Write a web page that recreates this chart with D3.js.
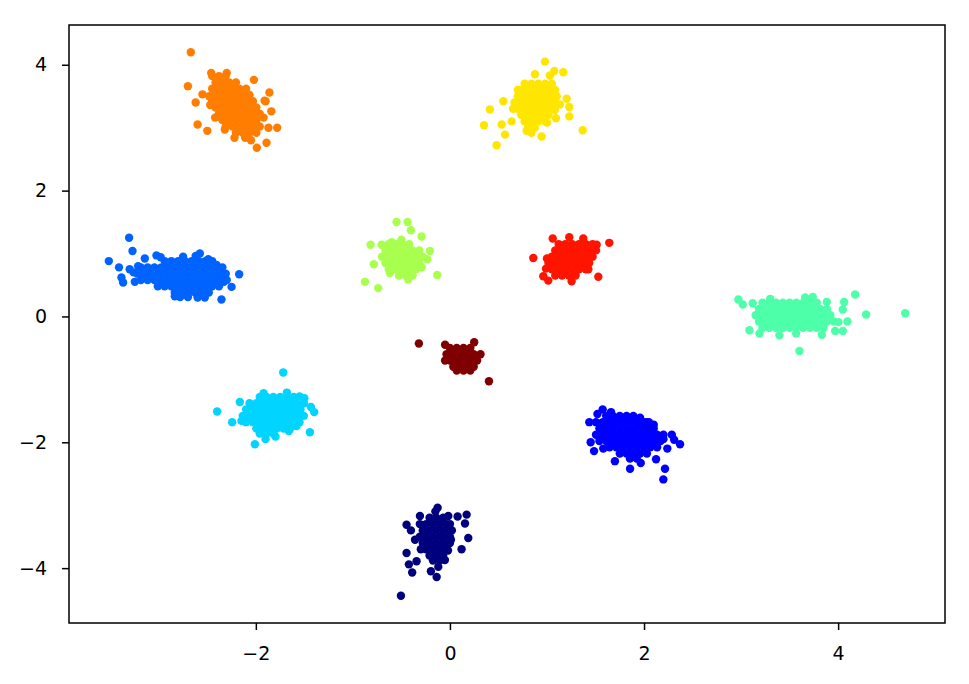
<!DOCTYPE html>
<html>
<head>
<meta charset="utf-8">
<script src="https://cdn.jsdelivr.net/npm/d3@7"></script>
<style>
  html, body { margin: 0; padding: 0; background: #ffffff; }
  svg { display: block; }
  text { font-family: "DejaVu Sans", sans-serif; }
</style>
</head>
<body>
<svg id="chart" width="969" height="684"></svg>
<script>
// ---- Data ----
const xTicks = [-2, 0, 2, 4];
const yTicks = [-4, -2, 0, 2, 4];

const clusterNavy = [
  [-0.505,-4.44],[-0.127,-3.04],[-0.017,-3.17],[0.079,-3.18],[0.172,-3.15],[0.155,-3.29],[0.189,-3.52],
  [0.12,-3.70],[-0.052,-3.87],[-0.137,-4.14],[-0.196,-4.05],[-0.389,-4.07],[-0.423,-3.94],[-0.344,-3.89],
  [-0.447,-3.76],[-0.447,-3.31],[-0.402,-3.40],[-0.309,-3.17],[-0.36,-3.55],[-0.12,-3.98],[-0.15,-3.10],
  [0.02,-3.40],[0.01,-3.55],[-0.02,-3.72],
  [-0.21,-3.20],[-0.14,-3.20],[-0.07,-3.20],
  [-0.31,-3.30],[-0.245,-3.30],[-0.175,-3.30],[-0.105,-3.30],[-0.035,-3.30],[0.00,-3.30],
  [-0.28,-3.40],[-0.21,-3.40],[-0.14,-3.40],[-0.07,-3.40],[0.00,-3.40],
  [-0.31,-3.50],[-0.245,-3.50],[-0.175,-3.50],[-0.105,-3.50],[-0.035,-3.50],[0.00,-3.50],
  [-0.28,-3.60],[-0.21,-3.60],[-0.14,-3.60],[-0.07,-3.60],[0.00,-3.60],
  [-0.30,-3.70],[-0.245,-3.70],[-0.175,-3.70],[-0.105,-3.70],[-0.035,-3.70],
  [-0.21,-3.80],[-0.14,-3.80],[-0.07,-3.80],
  [-0.175,-3.88],[-0.105,-3.88]
];

const clusterBlue = [
  [1.574,-1.48],[1.436,-1.68],[1.45,-2.00],[1.485,-2.14],[1.856,-2.42],[2.216,-2.42],[2.199,-2.59],
  [2.371,-2.03],[2.286,-1.88],[2.31,-1.96],[2.24,-2.10],[2.124,-2.27],[1.966,-2.33],[1.959,-1.61],
  [2.027,-1.68],[1.52,-1.55],[1.70,-2.30],[1.66,-1.52],[2.10,-1.72],[1.58,-2.10],[2.20,-1.95],
  [1.61,-1.58],[1.68,-1.58],[1.75,-1.58],[1.82,-1.58],[1.89,-1.58],
  [1.505,-1.68],[1.575,-1.68],[1.645,-1.68],[1.715,-1.68],[1.785,-1.68],[1.855,-1.68],[1.925,-1.68],[1.995,-1.68],[2.05,-1.68],
  [1.54,-1.78],[1.61,-1.78],[1.68,-1.78],[1.75,-1.78],[1.82,-1.78],[1.89,-1.78],[1.96,-1.78],[2.03,-1.78],[2.10,-1.78],
  [1.505,-1.88],[1.575,-1.88],[1.645,-1.88],[1.715,-1.88],[1.785,-1.88],[1.855,-1.88],[1.925,-1.88],[1.995,-1.88],[2.065,-1.88],[2.135,-1.88],[2.20,-1.88],
  [1.54,-1.98],[1.61,-1.98],[1.68,-1.98],[1.75,-1.98],[1.82,-1.98],[1.89,-1.98],[1.96,-1.98],[2.03,-1.98],[2.10,-1.98],[2.17,-1.98],
  [1.645,-2.08],[1.715,-2.08],[1.785,-2.08],[1.855,-2.08],[1.925,-2.08],[1.995,-2.08],[2.065,-2.08],[2.135,-2.08],
  [1.75,-2.18],[1.82,-2.18],[1.89,-2.18],[1.96,-2.18],[2.03,-2.18],
  [1.855,-2.26],[1.925,-2.26]
];

const clusterAzure = [
  [-3.306,1.25],[-3.271,1.04],[-3.515,0.88],[-3.41,0.78],[-3.368,0.54],[-3.385,0.62],[-3.247,0.55],
  [-2.172,0.67],[-2.354,0.27],[-2.25,0.47],[-2.577,1.00],[-2.49,0.91],[-2.405,0.82],[-3.024,0.97],
  [-3.144,0.92],[-2.835,0.32],[-2.526,0.30],[-2.354,0.68],[-3.30,0.75],[-3.213,0.80],[-2.70,0.31],
  [-2.98,0.94],[-2.62,0.96],[-2.75,0.95],[-2.78,0.31],[-2.60,0.30],[-3.26,0.70],[-2.33,0.55],
  [-2.94,0.88],[-2.87,0.88],[-2.80,0.88],[-2.73,0.88],[-2.66,0.88],[-2.59,0.88],[-2.52,0.88],[-2.45,0.88],
  [-3.185,0.78],[-3.115,0.78],[-3.045,0.78],[-2.975,0.78],[-2.905,0.78],[-2.835,0.78],[-2.765,0.78],[-2.695,0.78],[-2.625,0.78],[-2.555,0.78],[-2.485,0.78],[-2.415,0.78],[-2.345,0.78],
  [-3.22,0.68],[-3.15,0.68],[-3.08,0.68],[-3.01,0.68],[-2.94,0.68],[-2.87,0.68],[-2.80,0.68],[-2.73,0.68],[-2.66,0.68],[-2.59,0.68],[-2.52,0.68],[-2.45,0.68],[-2.38,0.68],[-2.31,0.68],
  [-3.185,0.58],[-3.115,0.58],[-3.045,0.58],[-2.975,0.58],[-2.905,0.58],[-2.835,0.58],[-2.765,0.58],[-2.695,0.58],[-2.625,0.58],[-2.555,0.58],[-2.485,0.58],[-2.415,0.58],[-2.345,0.58],[-2.30,0.58],
  [-3.01,0.48],[-2.94,0.48],[-2.87,0.48],[-2.80,0.48],[-2.73,0.48],[-2.66,0.48],[-2.59,0.48],[-2.52,0.48],[-2.45,0.48],[-2.38,0.48],
  [-2.835,0.38],[-2.765,0.38],[-2.695,0.38],[-2.625,0.38],[-2.555,0.38],[-2.485,0.38]
];

const clusterCyan = [
  [-1.718,-0.89],[-2.399,-1.51],[-2.244,-1.68],[-2.148,-1.66],[-1.443,-1.84],[-1.399,-1.52],[-1.433,-1.44],
  [-1.797,-1.91],[-2.01,-2.03],[-1.66,-1.82],[-1.58,-1.74],[-2.165,-1.36],[-1.90,-1.95],[-1.50,-1.30],
  [-1.92,-1.22],[-1.68,-1.21],[-1.55,-1.27],
  [-1.96,-1.28],[-1.89,-1.28],[-1.82,-1.28],[-1.75,-1.28],[-1.68,-1.28],[-1.61,-1.28],
  [-2.065,-1.38],[-1.995,-1.38],[-1.925,-1.38],[-1.855,-1.38],[-1.785,-1.38],[-1.715,-1.38],[-1.645,-1.38],[-1.575,-1.38],[-1.505,-1.38],
  [-2.10,-1.48],[-2.03,-1.48],[-1.96,-1.48],[-1.89,-1.48],[-1.82,-1.48],[-1.75,-1.48],[-1.68,-1.48],[-1.61,-1.48],[-1.54,-1.48],
  [-2.135,-1.58],[-2.065,-1.58],[-1.995,-1.58],[-1.925,-1.58],[-1.855,-1.58],[-1.785,-1.58],[-1.715,-1.58],[-1.645,-1.58],[-1.575,-1.58],[-1.505,-1.58],
  [-2.10,-1.68],[-2.03,-1.68],[-1.96,-1.68],[-1.89,-1.68],[-1.82,-1.68],[-1.75,-1.68],[-1.68,-1.68],[-1.61,-1.68],[-1.55,-1.68],
  [-1.995,-1.78],[-1.925,-1.78],[-1.855,-1.78],[-1.785,-1.78],[-1.715,-1.78],[-1.645,-1.78],
  [-1.96,-1.86],[-1.89,-1.86],[-1.82,-1.86]
];

const clusterAqua = [
  [2.972,0.27],[3.017,0.19],[3.12,0.21],[3.086,-0.22],[3.19,-0.27],[3.395,-0.30],[3.601,-0.55],
  [4.175,0.35],[4.289,0.03],[4.691,0.05],[4.062,0.23],[4.048,0.11],[4.096,-0.08],[4.048,-0.23],
  [3.969,-0.23],[3.832,-0.29],[3.883,0.23],[3.66,0.30],[3.739,0.31],[4.003,-0.09],[3.567,-0.27],[3.30,0.28],
  [3.22,0.22],[3.29,0.22],[3.36,0.22],[3.43,0.22],[3.50,0.22],[3.57,0.22],[3.64,0.22],[3.71,0.22],[3.78,0.22],
  [3.185,0.12],[3.255,0.12],[3.325,0.12],[3.395,0.12],[3.465,0.12],[3.535,0.12],[3.605,0.12],[3.675,0.12],[3.745,0.12],[3.815,0.12],[3.885,0.12],
  [3.15,0.02],[3.22,0.02],[3.29,0.02],[3.36,0.02],[3.43,0.02],[3.50,0.02],[3.57,0.02],[3.64,0.02],[3.71,0.02],[3.78,0.02],[3.85,0.02],[3.92,0.02],
  [3.185,-0.08],[3.255,-0.08],[3.325,-0.08],[3.395,-0.08],[3.465,-0.08],[3.535,-0.08],[3.605,-0.08],[3.675,-0.08],[3.745,-0.08],[3.815,-0.08],[3.885,-0.08],[3.955,-0.08],
  [3.22,-0.18],[3.29,-0.18],[3.36,-0.18],[3.43,-0.18],[3.50,-0.18],[3.57,-0.18],[3.64,-0.18],[3.71,-0.18],[3.78,-0.18],[3.85,-0.18]
];

const clusterLime = [
  [-0.55,1.50],[-0.436,1.50],[-0.402,1.37],[-0.292,1.27],[-0.818,1.14],[-0.704,1.14],[-0.60,1.18],
  [-0.206,1.04],[-0.234,0.91],[-0.784,0.83],[-0.131,0.66],[-0.876,0.55],[-0.739,0.45],[-0.43,0.59],[-0.619,0.69],
  [-0.29,0.78],[-0.50,1.22],
  [-0.63,1.15],[-0.56,1.15],[-0.49,1.15],[-0.42,1.15],
  [-0.665,1.05],[-0.595,1.05],[-0.525,1.05],[-0.455,1.05],[-0.385,1.05],[-0.315,1.05],
  [-0.70,0.95],[-0.63,0.95],[-0.56,0.95],[-0.49,0.95],[-0.42,0.95],[-0.35,0.95],[-0.28,0.95],
  [-0.665,0.85],[-0.595,0.85],[-0.525,0.85],[-0.455,0.85],[-0.385,0.85],[-0.315,0.85],
  [-0.63,0.75],[-0.56,0.75],[-0.49,0.75],[-0.42,0.75],[-0.35,0.75],
  [-0.525,0.65],[-0.455,0.65],[-0.385,0.65]
];

const clusterYellow = [
  [0.979,4.05],[1.168,3.88],[1.075,3.90],[1.03,3.83],[0.876,3.85],[0.412,3.29],[0.351,3.04],
  [0.481,2.72],[0.567,2.89],[0.533,3.05],[1.368,2.96],[1.203,3.46],[1.23,3.33],[1.23,3.18],
  [1.093,3.15],[0.945,2.86],[0.55,3.42],[0.636,3.10],[0.79,2.95],[1.0,3.08],[1.134,3.37],
  [0.65,3.30],[1.08,3.28],[0.70,3.60],
  [0.77,3.70],[0.84,3.70],[0.91,3.70],[0.98,3.70],[1.05,3.70],
  [0.735,3.60],[0.805,3.60],[0.875,3.60],[0.945,3.60],[1.015,3.60],[1.085,3.60],
  [0.70,3.50],[0.77,3.50],[0.84,3.50],[0.91,3.50],[0.98,3.50],[1.05,3.50],[1.10,3.50],
  [0.665,3.40],[0.735,3.40],[0.805,3.40],[0.875,3.40],[0.945,3.40],[1.015,3.40],[1.085,3.40],
  [0.70,3.30],[0.77,3.30],[0.84,3.30],[0.91,3.30],[0.98,3.30],[1.05,3.30],
  [0.735,3.20],[0.805,3.20],[0.875,3.20],[0.945,3.20],[1.015,3.20],
  [0.77,3.10],[0.84,3.10],[0.91,3.10],[0.98,3.10],
  [0.805,3.00],[0.875,3.00],
  [0.84,2.92]
];

const clusterOrange = [
  [-2.67,4.20],[-2.70,3.66],[-2.02,3.76],[-2.30,3.87],[-2.46,3.87],[-1.86,3.56],[-1.84,3.26],
  [-1.78,3.00],[-1.87,3.00],[-1.99,2.68],[-1.89,2.76],[-2.60,3.05],[-2.50,2.95],[-2.62,3.40],
  [-2.55,3.53],[-2.42,3.16],[-2.32,2.97],[-2.22,2.84],[-2.11,2.84],[-2.06,2.97],[-1.90,3.42],[-1.92,3.16],
  [-1.91,3.43],[-2.05,2.80],[-2.48,3.50],[-2.47,3.36],
  [-2.45,3.82],[-2.38,3.82],[-2.31,3.82],
  [-2.415,3.72],[-2.345,3.72],[-2.275,3.72],[-2.205,3.72],
  [-2.45,3.62],[-2.38,3.62],[-2.31,3.62],[-2.24,3.62],[-2.17,3.62],[-2.10,3.62],
  [-2.415,3.52],[-2.345,3.52],[-2.275,3.52],[-2.205,3.52],[-2.135,3.52],[-2.065,3.52],
  [-2.45,3.42],[-2.38,3.42],[-2.31,3.42],[-2.24,3.42],[-2.17,3.42],[-2.10,3.42],[-2.03,3.42],
  [-2.415,3.32],[-2.345,3.32],[-2.275,3.32],[-2.205,3.32],[-2.135,3.32],[-2.065,3.32],[-1.995,3.32],
  [-2.38,3.22],[-2.31,3.22],[-2.24,3.22],[-2.17,3.22],[-2.10,3.22],[-2.03,3.22],[-1.96,3.22],
  [-2.345,3.12],[-2.275,3.12],[-2.205,3.12],[-2.135,3.12],[-2.065,3.12],[-1.995,3.12],
  [-2.31,3.02],[-2.24,3.02],[-2.17,3.02],[-2.10,3.02],[-2.03,3.02],[-1.96,3.02],
  [-2.205,2.92],[-2.135,2.92],[-2.065,2.92],[-1.995,2.92]
];

const clusterRed = [
  [0.859,0.93],[1.059,1.24],[1.23,1.26],[1.642,1.17],[1.529,0.63],[1.254,0.56],[1.013,0.57],
  [0.962,0.64],[1.374,1.24],[1.512,1.14],[1.426,0.75],[1.00,0.92],[0.99,0.76],
  [1.12,1.15],[1.19,1.15],[1.26,1.15],[1.33,1.15],[1.40,1.15],[1.47,1.15],
  [1.085,1.05],[1.155,1.05],[1.225,1.05],[1.295,1.05],[1.365,1.05],[1.435,1.05],[1.505,1.05],
  [1.05,0.95],[1.12,0.95],[1.19,0.95],[1.26,0.95],[1.33,0.95],[1.40,0.95],[1.47,0.95],
  [1.015,0.85],[1.085,0.85],[1.155,0.85],[1.225,0.85],[1.295,0.85],[1.365,0.85],[1.435,0.85],
  [1.05,0.75],[1.12,0.75],[1.19,0.75],[1.26,0.75],[1.33,0.75],[1.40,0.75],
  [1.085,0.65],[1.155,0.65],[1.225,0.65],[1.295,0.65]
];

const clusterMaroon = [
  [-0.32,-0.43],[0.25,-0.41],[0.402,-1.03],[-0.05,-0.45],[-0.05,-0.70],
  [0.00,-0.50],[0.07,-0.50],[0.14,-0.50],[0.21,-0.50],
  [-0.035,-0.60],[0.035,-0.60],[0.105,-0.60],[0.175,-0.60],[0.245,-0.60],[0.315,-0.60],
  [0.00,-0.70],[0.07,-0.70],[0.14,-0.70],[0.21,-0.70],[0.28,-0.70],
  [0.035,-0.80],[0.105,-0.80],[0.175,-0.80],[0.245,-0.80],
  [0.07,-0.86],[0.14,-0.86],[0.21,-0.86]
];

const clusterColors = ["#00007f","#0000ff","#0063ff","#00d4ff","#4effa9","#a9ff4e","#ffe600","#ff7d00","#ff1400","#7f0000"];
const clusterData = [clusterNavy, clusterBlue, clusterAzure, clusterCyan, clusterAqua, clusterLime, clusterYellow, clusterOrange, clusterRed, clusterMaroon];

// ---- Layout ----
const W = 969, H = 684;
const plot = { left: 69, right: 945, top: 25, bottom: 623 };

const all = clusterData.flat();
const xExt = d3.extent(all, d => d[0]);
const yExt = d3.extent(all, d => d[1]);
const xPad = (xExt[1] - xExt[0]) * 0.05;
const yPad = (yExt[1] - yExt[0]) * 0.05;

const x = d3.scaleLinear().domain([xExt[0] - xPad, xExt[1] + xPad]).range([plot.left, plot.right]);
const y = d3.scaleLinear().domain([yExt[0] - yPad, yExt[1] + yPad]).range([plot.bottom, plot.top]);

const svg = d3.select("#chart");
svg.append("rect").attr("width", W).attr("height", H).attr("fill", "#ffffff");

const fmt = d3.format("d");

// points
const g = svg.append("g");
clusterData.forEach((pts, i) => {
  g.append("g").attr("fill", clusterColors[i])
    .selectAll("circle").data(pts).enter().append("circle")
    .attr("cx", d => x(d[0])).attr("cy", d => y(d[1])).attr("r", 4.2);
});

// axes
const xAxis = d3.axisBottom(x).tickValues(xTicks).tickFormat(fmt).tickSizeInner(7).tickSizeOuter(0).tickPadding(17);
const yAxis = d3.axisLeft(y).tickValues(yTicks).tickFormat(fmt).tickSizeInner(7).tickSizeOuter(0).tickPadding(15);

const gx = svg.append("g").attr("transform", `translate(0,${plot.bottom})`).call(xAxis);
const gy = svg.append("g").attr("transform", `translate(${plot.left},0)`).call(yAxis);
[gx, gy].forEach(a => {
  a.select(".domain").remove();
  a.selectAll(".tick line").attr("stroke", "#000").attr("stroke-width", 1.5);
  a.selectAll(".tick text").attr("fill", "#000").style("font-size", "19px").style("font-family", "'DejaVu Sans', sans-serif");
});

// frame
svg.append("rect")
  .attr("x", plot.left).attr("y", plot.top)
  .attr("width", plot.right - plot.left).attr("height", plot.bottom - plot.top)
  .attr("fill", "none").attr("stroke", "#000").attr("stroke-width", 1.5);
</script>
</body>
</html>
